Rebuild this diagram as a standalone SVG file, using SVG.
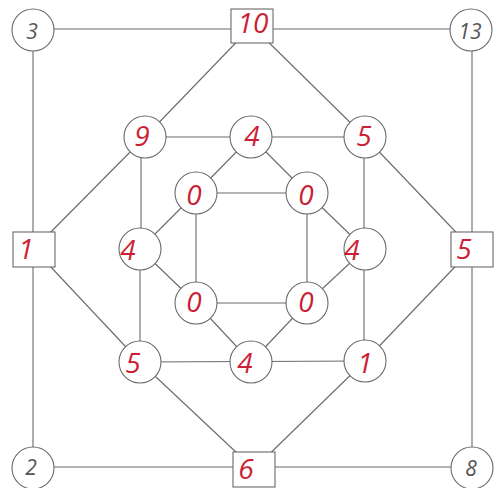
<svg xmlns="http://www.w3.org/2000/svg" width="494" height="488" viewBox="0 0 494 488">
<style>
.e{stroke:#6a6a6a;stroke-width:1.1;fill:none}
.n{fill:#fff;stroke:#6a6a6a;stroke-width:1.1}
.r{fill:#cc1f36;font-family:"Open Sans","Noto Sans",sans-serif;font-style:italic;font-size:28px;text-anchor:middle}
.g{fill:#555;font-family:"Open Sans","Noto Sans",sans-serif;font-style:italic;font-size:21px;text-anchor:middle}
</style>
<rect width="494" height="488" fill="#fff"/>
<g id="edges">
<line class="e" x1="33" y1="29" x2="231" y2="29"/>
<line class="e" x1="273" y1="29" x2="471" y2="29"/>
<line class="e" x1="33" y1="30" x2="33" y2="468"/>
<line class="e" x1="472" y1="30" x2="472" y2="468"/>
<line class="e" x1="33" y1="467" x2="472" y2="467"/>
<line class="e" x1="252" y1="26" x2="145" y2="137"/>
<line class="e" x1="252" y1="26" x2="365" y2="137"/>
<line class="e" x1="145" y1="137" x2="365" y2="137"/>
<line class="e" x1="145" y1="137" x2="34" y2="249"/>
<line class="e" x1="141" y1="137" x2="141" y2="249"/>
<line class="e" x1="251" y1="137" x2="196" y2="193"/>
<line class="e" x1="251" y1="137" x2="307" y2="193"/>
<line class="e" x1="364" y1="137" x2="364" y2="361"/>
<line class="e" x1="365" y1="137" x2="472" y2="249"/>
<line class="e" x1="196" y1="193" x2="307" y2="193"/>
<line class="e" x1="196" y1="193" x2="196" y2="303"/>
<line class="e" x1="307" y1="193" x2="307" y2="303"/>
<line class="e" x1="196" y1="193" x2="140" y2="249"/>
<line class="e" x1="307" y1="193" x2="365" y2="249"/>
<line class="e" x1="196" y1="303" x2="140" y2="249"/>
<line class="e" x1="307" y1="303" x2="365" y2="249"/>
<line class="e" x1="196" y1="303" x2="307" y2="303"/>
<line class="e" x1="196" y1="303" x2="251" y2="362"/>
<line class="e" x1="307" y1="303" x2="251" y2="362"/>
<line class="e" x1="140" y1="249" x2="140" y2="362"/>
<line class="e" x1="34" y1="249" x2="140" y2="362"/>
<line class="e" x1="472" y1="249" x2="365" y2="361"/>
<line class="e" x1="140" y1="362" x2="365" y2="361"/>
<line class="e" x1="140" y1="362" x2="254" y2="469"/>
<line class="e" x1="365" y1="361" x2="254" y2="469"/>
</g>
<g id="n3"><circle class="n" cx="33" cy="30" r="21"/><text class="g" x="32" y="39">3</text></g>
<g id="n10"><rect class="n" x="231" y="9" width="42" height="34"/><text class="r" x="253" y="33">10</text></g>
<g id="n13"><circle class="n" cx="471" cy="30" r="21"/><text class="g" x="470" y="39">13</text></g>
<g id="n9"><circle class="n" cx="145" cy="137" r="21"/><text class="r" x="142" y="146">9</text></g>
<g id="n4a"><circle class="n" cx="251" cy="137" r="21"/><text class="r" x="252" y="146">4</text></g>
<g id="n5a"><circle class="n" cx="365" cy="137" r="21"/><text class="r" x="364" y="146">5</text></g>
<g id="n0a"><circle class="n" cx="196" cy="193" r="21"/><text class="r" x="194" y="205">0</text></g>
<g id="n0b"><circle class="n" cx="307" cy="193" r="21"/><text class="r" x="306" y="205">0</text></g>
<g id="n1"><rect class="n" x="13" y="232" width="42" height="35"/><text class="r" x="26" y="259">1</text></g>
<g id="n4b"><circle class="n" cx="140" cy="249" r="21"/><text class="r" x="128" y="260">4</text></g>
<g id="n4c"><circle class="n" cx="365" cy="249" r="21"/><text class="r" x="352" y="260">4</text></g>
<g id="n5b"><rect class="n" x="451" y="232" width="42" height="35"/><text class="r" x="464" y="259">5</text></g>
<g id="n0c"><circle class="n" cx="196" cy="303" r="21"/><text class="r" x="194" y="312">0</text></g>
<g id="n0d"><circle class="n" cx="307" cy="303" r="21"/><text class="r" x="306" y="312">0</text></g>
<g id="n5c"><circle class="n" cx="140" cy="362" r="21"/><text class="r" x="133" y="373">5</text></g>
<g id="n4d"><circle class="n" cx="251" cy="362" r="21"/><text class="r" x="245" y="373">4</text></g>
<g id="n1b"><circle class="n" cx="365" cy="361" r="21"/><text class="r" x="365" y="373">1</text></g>
<g id="n2"><circle class="n" cx="33" cy="468" r="21"/><text class="g" x="31" y="475">2</text></g>
<g id="n6"><rect class="n" x="233" y="452" width="42" height="35"/><text class="r" x="246" y="479">6</text></g>
<g id="n8"><circle class="n" cx="472" cy="468" r="21"/><text class="g" x="471" y="476">8</text></g>
</svg>
